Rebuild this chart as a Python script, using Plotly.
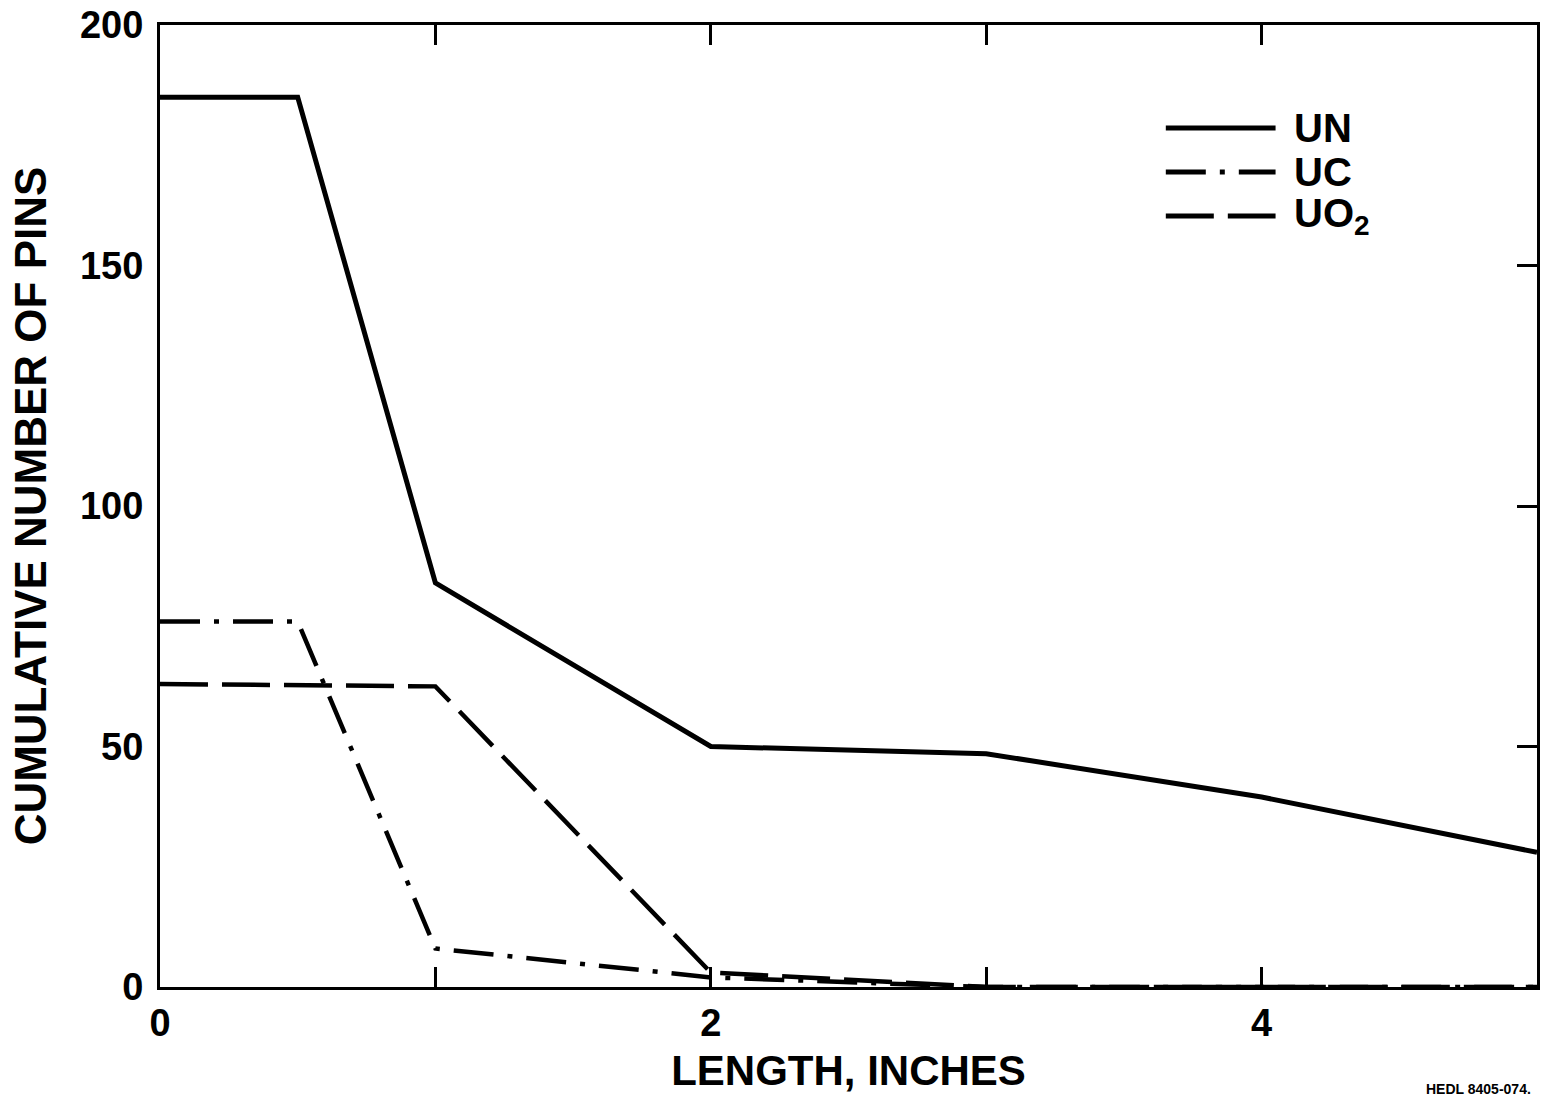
import plotly.graph_objects as go

# Cumulative number of failed pins vs. length (inches)
length_in = [0, 0.5, 1, 2, 3, 4, 5]
un_pins = [185, 185, 84, 50, 48.5, 39.5, 28]
uc_pins = [76, 76, 8, 2, 0, 0, 0]
uo2_length = [0, 1, 2, 3, 4, 5]
uo2_pins = [63, 62.5, 3, 0, 0, 0]

x_tickvals = [0, 2, 4]
y_tickvals = [0, 50, 100, 150, 200]

FONT = "Liberation Sans, Arial, sans-serif"
UC_DASH = "40px,14px,5px,14px"
UO2_DASH = "48px,14px"

fig = go.Figure()
fig.add_trace(go.Scatter(x=length_in, y=un_pins, mode="lines", name="UN",
                         line=dict(color="black", width=5)))
fig.add_trace(go.Scatter(x=length_in, y=uc_pins, mode="lines", name="UC",
                         line=dict(color="black", width=4.5, dash=UC_DASH)))
fig.add_trace(go.Scatter(x=uo2_length, y=uo2_pins, mode="lines", name="UO<sub>2</sub>",
                         line=dict(color="black", width=4.5, dash=UO2_DASH)))
# right-hand axis carrying the inside tick marks
fig.add_trace(go.Scatter(x=[None], y=[None], xaxis="x", yaxis="y2",
                         showlegend=False, hoverinfo="skip"))

# hand-built legend with long line samples
legend_rows = [("UN", None, 128), ("UC", UC_DASH, 172), ("UO<sub>2</sub>", UO2_DASH, 216)]
for label, dash, ypx in legend_rows:
    yp = (987 - ypx) / 962
    fig.add_shape(type="line", xref="paper", yref="paper",
                  x0=(1168 - 160) / 1380, x1=(1278 - 160) / 1380, y0=yp, y1=yp,
                  line=dict(color="black", width=5, dash=dash or "solid"))
    fig.add_annotation(xref="paper", yref="paper", x=(1294 - 160) / 1380, y=yp,
                       text="<b>" + label + "</b>",
                       showarrow=False, xanchor="left", yanchor="middle",
                       font=dict(family=FONT, size=40, color="black"))

fig.add_annotation(xref="paper", yref="paper", x=(1536 - 160) / 1380, y=(987 - 1089) / 962,
                   text="<b>HEDL 8405-074.</b>", showarrow=False, xanchor="right",
                   yanchor="middle", font=dict(family=FONT, size=14, color="black"))

fig.update_layout(
    width=1541, height=1099,
    margin=dict(l=160, r=1, t=25, b=112),
    paper_bgcolor="white", plot_bgcolor="white",
    showlegend=False,
    font=dict(family=FONT, color="black"),
    xaxis=dict(range=[0, 5], tickvals=x_tickvals,
               ticks="inside", ticklen=20, tickwidth=3, tickcolor="black",
               minor=dict(tickvals=[1, 3], ticks="inside", ticklen=20, tickwidth=3,
                          tickcolor="black", showgrid=False),
               showline=True, linecolor="black", linewidth=3, mirror="ticks",
               showgrid=False, zeroline=False,
               tickfont=dict(family=FONT, size=38, color="black", weight="bold"),
               title=dict(text="<b>LENGTH, INCHES</b>", standoff=14,
                          font=dict(family=FONT, size=42, color="black"))),
    yaxis=dict(range=[0, 200], tickvals=y_tickvals, ticks="",
               showline=True, linecolor="black", linewidth=3, mirror=True,
               showgrid=False, zeroline=False, ticklabelstandoff=6,
               tickfont=dict(family=FONT, size=38, color="black", weight="bold"),
               title=dict(text="<b>CUMULATIVE NUMBER OF PINS</b>", standoff=20,
                          font=dict(family=FONT, size=44, color="black"))),
    yaxis2=dict(range=[0, 200], overlaying="y", side="right", tickvals=[50, 100, 150],
                ticks="inside", ticklen=20, tickwidth=3, tickcolor="black",
                showticklabels=False, showgrid=False, zeroline=False, showline=False),
)

fig.write_html("out.html")
